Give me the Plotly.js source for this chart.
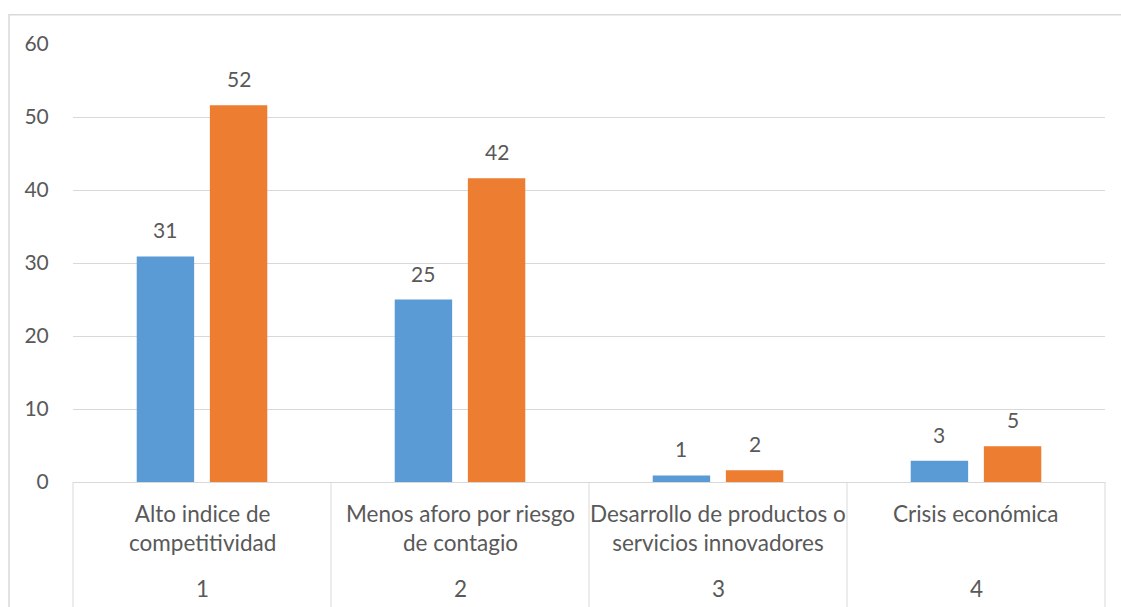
<!DOCTYPE html>
<html><head><meta charset="utf-8">
<script src="https://cdn.plot.ly/plotly-3.0.1.min.js"></script>
<style>html,body{margin:0;padding:0;background:#fff;} #chart{width:1121px;height:607px;}</style>
</head><body><div id="chart"></div>
<script>
// ---- data ----
const categories = ["Alto indice de competitividad", "Menos aforo por riesgo de contagio", "Desarrollo de productos o servicios innovadores", "Crisis económica"];
const categoryLabels = ["Alto indice de<br>competitividad", "Menos aforo por riesgo<br>de contagio", "Desarrollo de productos o<br>servicios innovadores", "Crisis económica"];
const categoryNumbers = ["1", "2", "3", "4"];
const seriesBlue = [30.9, 25, 0.9, 2.9];
const seriesOrange = [51.6, 41.6, 1.6, 4.9];
const yTicks = [0, 10, 20, 30, 40, 50, 60];

// ---- style ----
const FONT = "Lato, 'Open Sans', sans-serif";
const TXT = "#595959";
const GRID = "#d9d9d9";
const BARGAP = 0.433;
const BARGROUPGAP = 0.215;

const traces = [
  {type: "bar", x: categories, y: seriesBlue, marker: {color: "#5B9BD5"}, hoverinfo: "y"},
  {type: "bar", x: categories, y: seriesOrange, marker: {color: "#ED7D31"}, hoverinfo: "y"}
];

const annotations = [];
const off = (1 - BARGAP) / 4;
[[seriesBlue, -off], [seriesOrange, off]].forEach(([vals, dx]) => {
  vals.forEach((v, i) => {
    annotations.push({xref: "x", yref: "y", x: i + dx, y: v, text: String(Math.round(v)),
      showarrow: false, yanchor: "bottom", yshift: 12, font: {family: FONT, size: 21, color: TXT}});
  });
});
categoryLabels.forEach((t, i) => {
  annotations.push({xref: "x", yref: "paper", x: i, y: -0.036, yanchor: "top", text: t,
    showarrow: false, align: "center", font: {family: FONT, size: 22.5, color: TXT}});
  annotations.push({xref: "x", yref: "paper", x: i, y: -0.2436, yanchor: "middle", text: categoryNumbers[i],
    showarrow: false, font: {family: FONT, size: 22.5, color: TXT}});
});

const shapes = [];
// outer chart border
shapes.push({type: "rect", xref: "paper", yref: "paper", x0: -0.062, x1: 1.05, y0: 1.067, y1: -0.4,
  line: {color: GRID, width: 1.5}, fillcolor: "rgba(0,0,0,0)", layer: "below"});
// category separators
for (let k = 0; k <= categories.length; k++) {
  shapes.push({type: "line", xref: "paper", yref: "paper", x0: k / categories.length, x1: k / categories.length,
    y0: 0, y1: -0.3, line: {color: GRID, width: 1}});
}

const layout = {
  width: 1121, height: 607,
  margin: {l: 73, r: 16, t: 44, b: 125},
  paper_bgcolor: "#fff", plot_bgcolor: "#fff",
  showlegend: false,
  barmode: "group", bargap: BARGAP, bargroupgap: BARGROUPGAP,
  font: {family: FONT, size: 20, color: TXT},
  xaxis: {type: "category", showticklabels: false, ticks: "", showline: true, linecolor: GRID, linewidth: 1,
    showgrid: false, zeroline: false, fixedrange: true},
  yaxis: {range: [0, 60], tickvals: yTicks, ticktext: yTicks.map(String), showgrid: true, gridcolor: GRID, gridwidth: 1,
    zeroline: false, showline: false, ticks: "outside", ticklen: 19, tickcolor: "rgba(0,0,0,0)",
    tickfont: {family: FONT, size: 21, color: TXT}, fixedrange: true},
  annotations: annotations,
  shapes: shapes
};

Plotly.newPlot("chart", traces, layout, {displayModeBar: false, staticPlot: true});
</script>
</body></html>
